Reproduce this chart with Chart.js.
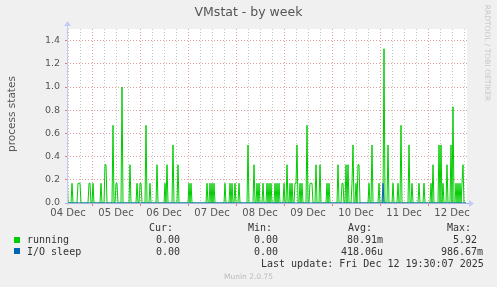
<!DOCTYPE html>
<html><head><meta charset="utf-8">
<script src="https://cdn.jsdelivr.net/npm/chart.js@4"></script>
<style>
html,body{margin:0;padding:0;background:#f0f0f0;}
#wrap{position:relative;width:497px;height:287px;overflow:hidden;background:#f0f0f0;}
#c{position:absolute;left:0;top:0;}
.m{position:absolute;white-space:pre;font-family:"DejaVu Sans Mono",monospace;font-size:10px;line-height:12px;color:#333;}
.s{position:absolute;white-space:pre;font-family:"DejaVu Sans",sans-serif;}
.sq{position:absolute;width:6px;height:6px;}
</style></head>
<body><div id="wrap">
<canvas id="c" width="497" height="287"></canvas>
<div class="s" style="left:0;width:497px;top:4px;text-align:center;font-size:12.5px;line-height:16px;color:#555;">VMstat - by week</div>
<div class="s" style="left:-39px;top:107px;width:100px;text-align:center;font-size:10.5px;line-height:14px;color:#555;transform:rotate(-90deg);">process states</div>
<div class="s" style="left:437px;top:48px;width:100px;text-align:center;font-size:7.5px;line-height:10px;color:#c8c8c8;transform:rotate(90deg);">RRDTOOL / TOBI OETIKER</div>
<div class="m" style="left:149px;top:222px;">Cur:</div>
<div class="m" style="left:248px;top:222px;">Min:</div>
<div class="m" style="left:348px;top:222px;">Avg:</div>
<div class="m" style="left:447px;top:222px;">Max:</div>
<div class="sq" style="left:14px;top:237px;background:#00cc00;"></div>
<div class="m" style="left:27px;top:234px;">running</div>
<div class="m" style="left:156px;top:234px;">0.00</div>
<div class="m" style="left:254px;top:234px;">0.00</div>
<div class="m" style="left:347px;top:234px;">80.91m</div>
<div class="m" style="left:453px;top:234px;">5.92</div>
<div class="sq" style="left:14px;top:248px;background:#0066b3;"></div>
<div class="m" style="left:27px;top:245.5px;">I/O sleep</div>
<div class="m" style="left:156px;top:245.5px;">0.00</div>
<div class="m" style="left:254px;top:245.5px;">0.00</div>
<div class="m" style="left:341px;top:245.5px;">418.06u</div>
<div class="m" style="left:441px;top:245.5px;">986.67m</div>
<div class="m" style="left:261px;top:257.5px;">Last update: Fri Dec 12 19:30:07 2025</div>
<div class="s" style="left:0;width:497px;top:272px;text-align:center;font-size:7.5px;line-height:10px;color:#bbb;">Munin 2.0.75</div>
</div>
<script>
// time axis: hours since 04 Dec 00:00, one sample per 30 minutes
const startHour = 11.5;
const stepHours = 0.5;
const dayLabels = ['04 Dec','05 Dec','06 Dec','07 Dec','08 Dec','09 Dec','10 Dec','11 Dec','12 Dec'];
const yTickLabels = ['0.0','0.2','0.4','0.6','0.8','1.0','1.2','1.4'];

const running = [
0.33,0,0,0,0,0.17,0,0,0,0, 0,0.17,0.17,0.17,0,0,0,0,0,0, 0,0,0.17,0.17,0,0,0.17,0,0,0, 0,0,0,0,0.17,0,0,0,0.33,0.33,
0,0,0,0,0,0,0.67,0,0,0.17, 0.17,0,0,0,0,1.0,0,0,0,0, 0,0,0,0.33,0,0,0,0,0,0, 0.17,0,0,0.17,0.17,0,0,0,0,0.67,
0,0,0,0.17,0,0,0,0,0,0, 0.33,0,0,0,0,0,0,0,0.17,0, 0.33,0,0,0,0,0,0.5,0,0,0, 0,0.33,0,0,0,0,0,0,0,0,
0,0,0.17,0,0.17,0,0,0,0,0, 0,0,0,0,0,0,0,0,0,0, 0.17,0,0,0.17,0,0.17,0,0.17,0,0, 0,0,0,0,0,0,0,0,0.17,0,
0,0,0,0.17,0,0.17,0,0,0.17,0, 0,0,0.17,0,0,0,0,0,0,0, 0,0.5,0,0,0,0,0,0.33,0,0, 0.17,0,0.17,0,0,0,0.17,0,0,0,
0.17,0,0.17,0,0.17,0,0,0,0.17,0, 0.17,0,0.17,0,0,0,0,0.17,0,0, 0.33,0,0,0.17,0,0.17,0,0,0.17,0.17, 0.5,0,0,0.17,0,0.17,0,0,0,0,
0.67,0,0,0.17,0.17,0.17,0,0,0,0.33, 0,0,0,0.33,0,0,0,0,0,0, 0.17,0,0.17,0,0,0,0,0,0,0, 0,0.33,0,0,0,0.17,0.17,0,0,0.33,
0,0.33,0,0,0,0.17,0.5,0,0,0.17, 0,0.33,0.33,0,0,0,0,0,0,0, 0,0,0.17,0,0,0.5,0,0,0,0, 0,0,0.17,0,0,0,0,1.33,0,0,
0,0.5,0,0,0,0,0.17,0,0,0, 0,0.17,0,0,0.67,0,0,0,0,0, 0,0,0.5,0,0,0.17,0,0,0,0, 0,0,0.17,0,0,0,0,0.17,0,0,
0,0,0,0,0.17,0,0.33,0,0,0, 0,0,0.5,0,0.5,0,0.17,0,0,0, 0.33,0,0,0,0.5,0,0.83,0,0,0.17, 0,0.17,0,0.17,0,0.17,0.33,0,0,0
];
// I/O sleep: zero except one small bump on 11 Dec
const ioSleep = running.map(() => 0);
const ioSleepBumps = [[316, 0.17]];
ioSleepBumps.forEach(([i, v]) => { ioSleep[i] = v; });

const toPts = arr => arr.map((v, i) => ({x: startHour + i * stepHours, y: v}));

const minorCol = 'rgba(190,190,190,0.9)';
const majorCol = 'rgba(225,140,140,0.85)';

const bgPlugin = {
  id: 'plotBg',
  beforeDraw(chart) {
    const {ctx, chartArea: a} = chart;
    ctx.save();
    ctx.fillStyle = '#ffffff';
    ctx.fillRect(a.left, a.top, a.right - a.left, a.bottom - a.top);
    ctx.restore();
  }
};
const axisPlugin = {
  id: 'rrdAxes',
  afterDatasetsDraw(chart) {
    const {ctx, chartArea: a} = chart;
    ctx.save();
    ctx.lineWidth = 1;
    ctx.strokeStyle = '#a9b0e6';
    ctx.beginPath(); ctx.moveTo(a.left - 2, a.bottom + 0.5); ctx.lineTo(a.right + 3, a.bottom + 0.5); ctx.stroke();
    ctx.strokeStyle = '#c4cbf2';
    ctx.beginPath(); ctx.moveTo(a.left + 0.5, a.bottom + 2); ctx.lineTo(a.left + 0.5, a.top - 4); ctx.stroke();
    ctx.fillStyle = '#c4cbf6';
    ctx.beginPath(); ctx.moveTo(a.right + 7, a.bottom + 0.5); ctx.lineTo(a.right + 2, a.bottom - 3); ctx.lineTo(a.right + 2, a.bottom + 4); ctx.closePath(); ctx.fill();
    ctx.beginPath(); ctx.moveTo(a.left + 0.5, a.top - 8); ctx.lineTo(a.left - 3, a.top - 3); ctx.lineTo(a.left + 4, a.top - 3); ctx.closePath(); ctx.fill();
    ctx.restore();
  }
};

new Chart(document.getElementById('c'), {
  type: 'line',
  data: {
    datasets: [
      {label: 'I/O sleep', data: toPts(ioSleep), borderColor: '#0066b3', borderWidth: 1, pointRadius: 0, tension: 0, fill: false, order: 0},
      {label: 'running', data: toPts(running), borderColor: '#00cc00', borderWidth: 1, pointRadius: 0, tension: 0, fill: false, order: 1}
    ]
  },
  options: {
    responsive: false,
    animation: false,
    events: [],
    layout: {padding: {left: 0, top: 29, right: 30, bottom: 0}},
    plugins: {legend: {display: false}, tooltip: {enabled: false}, title: {display: false}},
    scales: {
      x: {
        type: 'linear', min: startHour, max: startHour + running.length * stepHours,
        afterFit(s) { s.height = 84; },
        afterBuildTicks(s) {
          const t = [];
          for (let h = 12; h <= s.max; h += 6) t.push({value: h});
          s.ticks = t;
        },
        grid: {
          color: c => (c.tick && c.tick.value % 24 === 0) ? majorCol : minorCol,
          lineWidth: 1, drawTicks: true, tickLength: 3,
          tickColor: c => (c.tick && c.tick.value % 24 === 0) ? 'rgba(230,110,110,0.9)' : 'rgba(0,0,0,0)'
        },
        border: {display: false, dash: [1, 2]},
        ticks: {
          autoSkip: false, maxRotation: 0, padding: 1, color: '#555',
          font: {family: 'DejaVu Sans', size: 10},
          callback: v => (v % 24 === 12) ? dayLabels[(v - 12) / 24] : ''
        }
      },
      y: {
        min: 0, max: 1.5,
        afterFit(s) { s.width = 67; },
        grid: {
          color: c => (c.tick && Math.round(c.tick.value * 10) % 2 === 0) ? majorCol : minorCol,
          lineWidth: 1, drawTicks: true, tickLength: 2,
          tickColor: c => (c.tick && Math.round(c.tick.value * 10) % 2 === 0) ? 'rgba(230,110,110,0.9)' : 'rgba(0,0,0,0)'
        },
        border: {display: false, dash: [1, 2]},
        ticks: {
          stepSize: 0.1, padding: 5, color: '#555',
          font: {family: 'DejaVu Sans', size: 9.5},
          callback: (v) => { const k = Math.round(v * 10); return k % 2 === 0 ? (yTickLabels[k / 2] || '') : ''; }
        }
      }
    }
  },
  plugins: [bgPlugin, axisPlugin]
});
</script>
</body></html>
